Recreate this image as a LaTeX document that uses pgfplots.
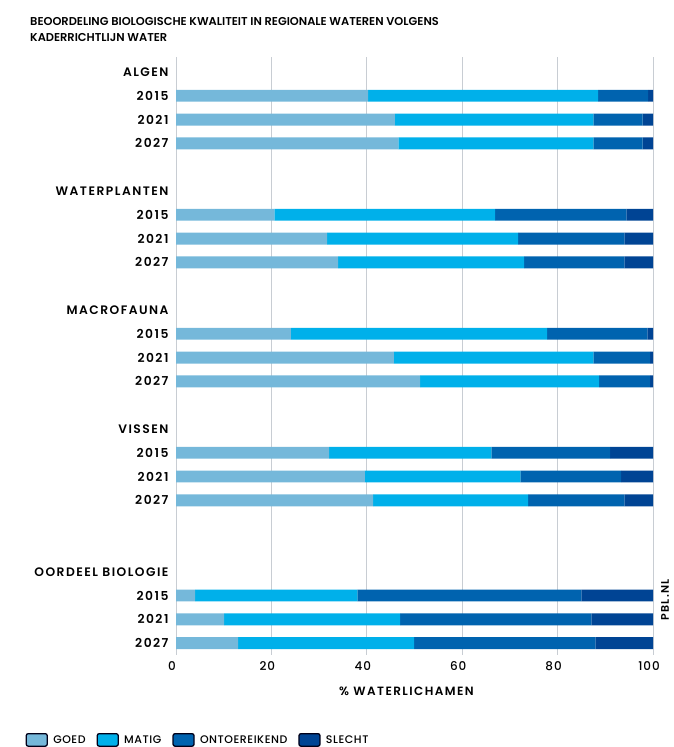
\documentclass[border=0pt]{standalone}
\usepackage{fontspec}
\setmainfont{Poppins}[BoldFont={Poppins SemiBold}]
\newfontfamily\labfont{Poppins SemiBold}[LetterSpace=12]
\newfontfamily\tickfont{Poppins Medium}[LetterSpace=8]
\newfontfamily\legfont{Poppins Medium}[LetterSpace=5]
\usepackage{pgfplots}
\usepackage{pgfplotstable}
\pgfplotsset{compat=1.18}
\definecolor{goed}{HTML}{75B8DA}
\definecolor{matig}{HTML}{00B0EA}
\definecolor{ontoer}{HTML}{0063AF}
\definecolor{slecht}{HTML}{004494}
\definecolor{gridc}{HTML}{C8CDD3}
\pgfplotstableread{
row goed matig ontoer slecht
1  40.3 48.2 10.5 1.0
2  45.9 41.6 10.3 2.2
3  46.6 40.9 10.3 2.2
6  20.6 46.3 27.5 5.6
7  31.7 40.0 22.3 6.0
8  34.0 39.0 21.0 6.0
11 24.1 53.7 21.0 1.2
12 45.7 41.8 11.9 0.6
13 51.2 37.5 10.7 0.6
16 32.1 34.0 24.9 9.0
17 39.6 32.6 21.1 6.7
18 41.3 32.5 20.2 6.0
22 4.0  34.0 47.0 15.0
23 10.1 36.9 40.1 12.9
24 13.0 36.9 38.0 12.1
}\datatable
\begin{document}
\begin{tikzpicture}[x=1pt,y=1pt]
\useasboundingbox (0,0) rectangle (673,-747);
\node[anchor=base west, align=left, font=\fontsize{11.4}{16}\selectfont\bfseries, inner sep=0pt] at (30,-41) {BEOORDELING BIOLOGISCHE KWALITEIT IN REGIONALE WATEREN VOLGENS\\KADERRICHTLIJN WATER};
\node[rotate=90, font=\fontsize{11}{13}\selectfont\labfont, inner sep=0pt] at (665,-600) {PBL.NL};
\begin{axis}[
  at={(176pt,-655pt)}, anchor=south west,
  scale only axis, width=477pt, height=598pt,
  xbar stacked, bar width=0.5,
  y dir=reverse, ymin=-0.63, ymax=24.5,
  xmin=0, xmax=100,
  xtick={0,20,40,60,80,100},
  ytick={0,1,2,3,5,6,7,8,10,11,12,13,15,16,17,18,21,22,23,24},
  yticklabels={ALGEN,2015,2021,2027,WATERPLANTEN,2015,2021,2027,MACROFAUNA,2015,2021,2027,VISSEN,2015,2021,2027,OORDEEL BIOLOGIE,2015,2021,2027},
  major tick length=0pt,
  axis line style={draw=none},
  xmajorgrids, grid style={gridc, line width=1pt},
  yticklabel style={font=\fontsize{12.3}{14}\selectfont\labfont, anchor=east, xshift=-4pt},
  xticklabel style={font=\fontsize{12}{14}\selectfont\tickfont, anchor=center, yshift=-11pt, xshift=-4pt},
  /pgf/number format/assume math mode=true,
  xlabel={\% WATERLICHAMEN},
  xlabel style={font=\fontsize{12}{14}\selectfont\labfont, at={(axis description cs:0.5,0)}, anchor=center, yshift=-36pt, xshift=-8pt},
  legend columns=4,
  legend style={draw=none, fill=none, at={(-0.322,-0.142)}, anchor=west, font=\fontsize{11}{13}\selectfont\legfont, /tikz/every even column/.append style={column sep=9pt}},
  legend image code/.code={\draw[#1, draw=black!90!blue, line width=1.3pt, rounded corners=2pt] (0pt,-6pt) rectangle (21pt,6.5pt); \path (25pt,0pt);},
]
\addplot[fill=goed, draw=none] table[x=goed, y=row] {\datatable};
\addplot[fill=matig, draw=none] table[x=matig, y=row] {\datatable};
\addplot[fill=ontoer, draw=none] table[x=ontoer, y=row] {\datatable};
\addplot[fill=slecht, draw=none] table[x=slecht, y=row] {\datatable};
\legend{GOED, MATIG, ONTOEREIKEND, SLECHT}
\end{axis}
\end{tikzpicture}
\end{document}
